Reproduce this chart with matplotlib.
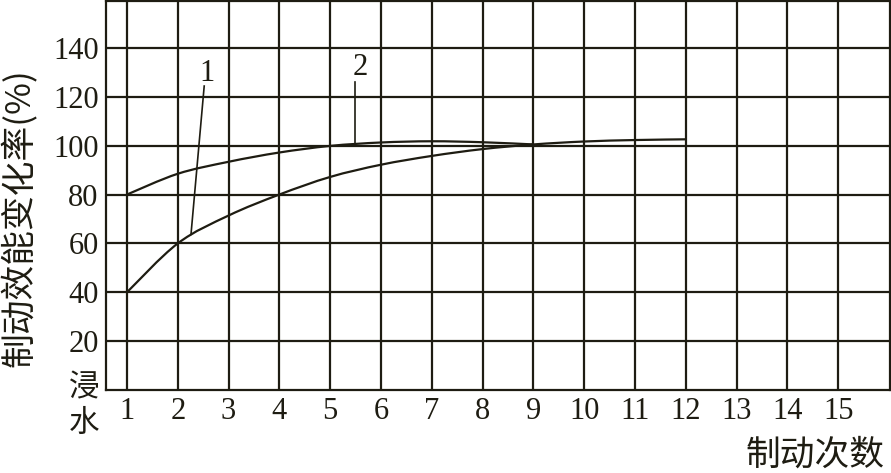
import numpy as np
import matplotlib
matplotlib.use('Agg')
import matplotlib.pyplot as plt
from matplotlib.path import Path
from matplotlib.patches import PathPatch

# values
runs_1 = [1, 2, 3, 4, 5, 6, 7, 8, 9, 10, 11, 12]
curve_1 = [40, 60, 71.4, 80, 87.2, 92.2, 95.8, 98.6, 100.5, 101.7, 102.3, 102.6]
runs_2 = [1, 2, 3, 4, 5, 6, 7, 8, 9]
curve_2 = [80, 88.5, 93.4, 97.2, 99.9, 101.3, 101.8, 101.4, 100.5]
x_ticks = list(range(1, 16))
y_ticks = list(range(20, 141, 20))

ink = '#1e1c12'
cjk = ['Noto Sans CJK SC', 'DejaVu Sans']
plt.rcParams['font.family'] = ['Liberation Serif', 'Noto Sans CJK SC']


def smooth_path(xs, ys):
    # Catmull-Rom through the read points, drawn as bezier segments
    pts = np.column_stack([xs, ys]).astype(float)
    n = len(pts)
    verts = [pts[0]]
    codes = [Path.MOVETO]
    for i in range(n - 1):
        p0 = pts[i - 1] if i > 0 else pts[i]
        p1, p2 = pts[i], pts[i + 1]
        p3 = pts[i + 2] if i + 2 < n else pts[i + 1]
        verts += [p1 + (p2 - p0) / 6, p2 - (p3 - p1) / 6, p2]
        codes += [Path.CURVE4] * 3
    return Path(verts, codes)


fig = plt.figure(figsize=(8.91, 4.73), dpi=100)
fig.patch.set_facecolor('white')
ax = fig.add_axes([105.5 / 891, 83 / 473, (890 - 105.5) / 891, 388.5 / 473])
ax.set_xlim(0.577, 16.02)
ax.set_ylim(0, 159)
ax.set_xticks(x_ticks)
ax.set_yticks(y_ticks)
ax.grid(True, color=ink, lw=1.6)
ax.set_axisbelow(True)
ax.tick_params(length=0, pad=5, labelsize=22, colors=ink)
for s in ax.spines.values():
    s.set_color(ink)
    s.set_linewidth(1.6)

for xs, ys in [(runs_1, curve_1), (runs_2, curve_2)]:
    ax.add_patch(PathPatch(smooth_path(xs, ys), fill=False, ec=ink, lw=1.6,
                           transform=ax.transData))

# leader lines and curve numbers
ax.plot([2.26, 2.52], [63.7, 124.4], color=ink, lw=1.2)
ax.plot([5.49, 5.49], [100.8, 125.9], color=ink, lw=1.2)
ax.text(2.58, 129.5, '1', ha='center', va='center', fontsize=22, color=ink)
ax.text(5.6, 131.9, '2', ha='center', va='center', fontsize=22, color=ink)

fig.text(20 / 891, 1 - 218 / 473, '制动效能变化率(%)', rotation=90, ha='center',
         va='center', fontsize=25, color=ink, family=cjk)
fig.text(84 / 891, 1 - 406 / 473, '浸\n水', ha='center', va='center',
         fontsize=22, linespacing=1.2, color=ink, family=cjk)
fig.text(885 / 891, 1 - 455 / 473, '制动次数', ha='right', va='center',
         fontsize=25, color=ink, family=cjk)

fig.savefig('out.png', dpi=100)
